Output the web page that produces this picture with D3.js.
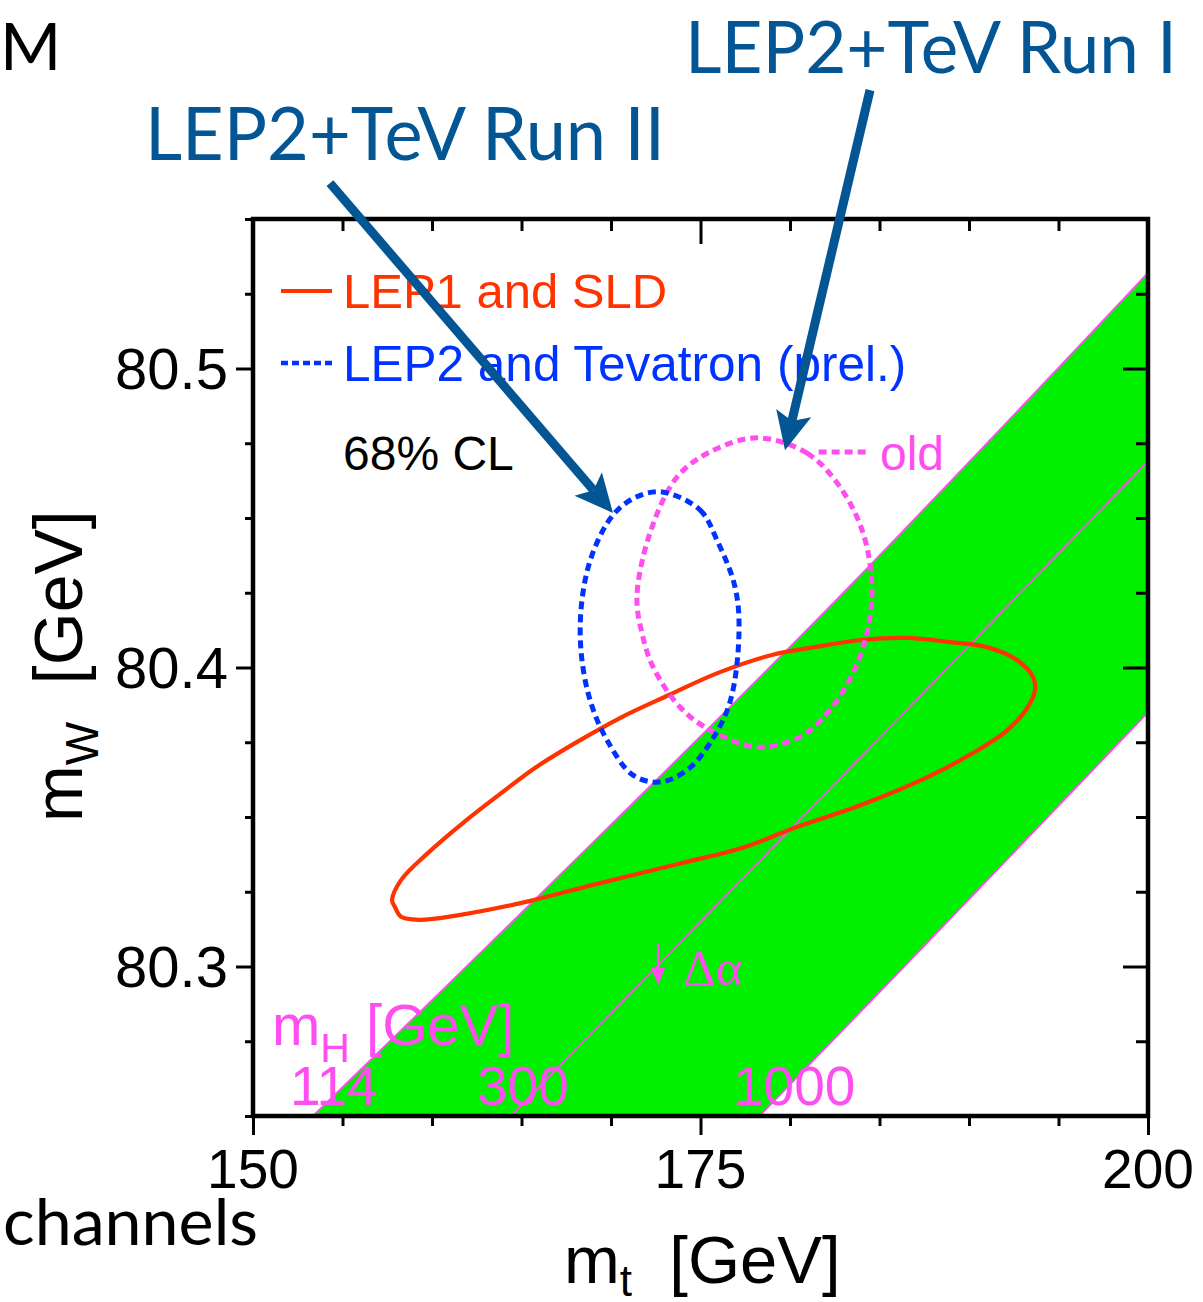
<!DOCTYPE html>
<html><head><meta charset="utf-8">
<script src="https://cdn.jsdelivr.net/npm/d3@7"></script>
<style>
html,body{margin:0;padding:0;background:#fff;}
svg{display:block;}
</style></head>
<body>
<svg id="chart" width="1203" height="1302"></svg>
<script>
// ---- axis ranges and ticks (GeV) ----
const mtDomain = [150, 200];
const mwDomain = [80.25, 80.55];
const mtMajorTicks = [150, 175, 200];
const mtMinorTicks = [155, 160, 165, 170, 180, 185, 190, 195];
const mwMajorTicks = [80.3, 80.4, 80.5];
const mwMinorTicks = [80.25, 80.275, 80.325, 80.35, 80.375, 80.425, 80.45, 80.475, 80.525, 80.55];

// ---- SM prediction for fixed Higgs mass: [m_t, m_W] ----
const higgs114 = [[153.35, 80.25], [165, 80.318], [182, 80.419], [200, 80.532]];
const higgs300 = [[164.4, 80.25], [182, 80.358], [200, 80.469]];
const higgs1000 = [[178.3, 80.25], [188, 80.31], [200, 80.385]];
const higgsLabels = ["114", "300", "1000"];

// ---- 68% CL contours: [m_t, m_W] ----
const lep1Sld = [
  [157.77, 80.3222], [158.27, 80.3289], [159.78, 80.3380], [161.79, 80.3483],
  [163.74, 80.3574], [165.75, 80.3664], [167.99, 80.3747], [170.50, 80.3831],
  [173.24, 80.3908], [175.98, 80.3982], [178.99, 80.4042], [181.45, 80.4069],
  [183.97, 80.4092], [186.48, 80.4099], [188.94, 80.4085], [190.95, 80.4069],
  [192.68, 80.4025], [193.58, 80.3968], [193.69, 80.3925], [193.18, 80.3858],
  [191.96, 80.3781], [190.22, 80.3714], [187.71, 80.3634], [183.97, 80.3540],
  [180.22, 80.3463], [177.49, 80.3400], [173.97, 80.3346], [168.99, 80.3273],
  [165.25, 80.3216], [161.51, 80.3172], [159.27, 80.3156], [158.27, 80.3166],
  [157.93, 80.3199]
];
const lep2Tev = [
  [172.85, 80.4587], [174.97, 80.4527], [175.92, 80.4426], [176.93, 80.4269],
  [177.15, 80.4115], [176.65, 80.3885], [175.53, 80.3747], [174.25, 80.3657],
  [172.74, 80.3617], [171.23, 80.3640], [169.78, 80.3757], [168.83, 80.3891],
  [168.32, 80.4059], [168.38, 80.4226], [168.94, 80.4376], [170.11, 80.4510],
  [171.40, 80.4570]
];
const lep2TevOld = [
  [178.16, 80.4768], [180.95, 80.4717], [182.79, 80.4604], [184.08, 80.4450],
  [184.58, 80.4269], [184.30, 80.4115], [183.52, 80.3982], [182.23, 80.3858],
  [180.56, 80.3768], [178.16, 80.3734], [175.53, 80.3791], [173.85, 80.3868],
  [172.35, 80.4002], [171.73, 80.4115], [171.45, 80.4236], [172.18, 80.4450],
  [173.69, 80.4637], [175.53, 80.4721]
];
const oldLeader = [[181.6, 80.4721], [184.5, 80.4721]];
const deltaAlphaArrow = [[172.63, 80.3079], [172.63, 80.2938]];

// annotation arrows: [start, tip] in [m_t, m_W]
const arrowRunII = [[154.30, 80.562], [170.11, 80.4517]];
const arrowRunI = [[184.47, 80.5931], [179.72, 80.4727]];

// ---- colours ----
const RED = "#ff3300", BLUE = "#0033ff", MAGENTA = "#ff4ef0", GREEN = "#00f000", NAVY = "#035594";
const SANS = "'Liberation Sans', Arial, Helvetica, sans-serif";
const HUMAN = "Lato, 'Open Sans', sans-serif";

const svg = d3.select("#chart");
svg.append("rect").attr("width", 1203).attr("height", 1302).attr("fill", "#fff");

const pLeft = 253, pRight = 1148, pTop = 219, pBottom = 1116;
const x = d3.scaleLinear().domain(mtDomain).range([pLeft, pRight]);
const y = d3.scaleLinear().domain(mwDomain).range([pBottom, pTop]);

svg.append("defs").append("clipPath").attr("id", "plotClip")
  .append("rect").attr("x", pLeft).attr("y", pTop).attr("width", pRight - pLeft).attr("height", pBottom - pTop);

const plot = svg.append("g").attr("clip-path", "url(#plotClip)");
const line = d3.line().x(d => x(d[0])).y(d => y(d[1])).curve(d3.curveCatmullRom.alpha(0.5));
const closed = d3.line().x(d => x(d[0])).y(d => y(d[1])).curve(d3.curveCatmullRomClosed.alpha(0.5));

// green band between mH = 114 and mH = 1000
const bandPath = line(higgs114) + "L" + line(higgs1000.slice().reverse()).slice(1) + "Z";
plot.append("path").attr("d", bandPath).attr("fill", GREEN).attr("stroke", "none");
[higgs114, higgs300, higgs1000].forEach(h => {
  plot.append("path").attr("d", line(h)).attr("fill", "none").attr("stroke", MAGENTA).attr("stroke-width", 1.8);
});

// contours
plot.append("path").attr("d", closed(lep1Sld)).attr("fill", "none")
  .attr("stroke", RED).attr("stroke-width", 4.2).attr("stroke-linejoin", "round");
plot.append("path").attr("d", closed(lep2TevOld)).attr("fill", "none")
  .attr("stroke", MAGENTA).attr("stroke-width", 5).attr("stroke-dasharray", "8,5");
plot.append("path").attr("d", line(oldLeader)).attr("fill", "none")
  .attr("stroke", MAGENTA).attr("stroke-width", 5).attr("stroke-dasharray", "8,5");
plot.append("path").attr("d", closed(lep2Tev)).attr("fill", "none")
  .attr("stroke", BLUE).attr("stroke-width", 5).attr("stroke-dasharray", "8,5");

// Delta-alpha arrow
const da = deltaAlphaArrow;
svg.append("line").attr("x1", x(da[0][0])).attr("y1", y(da[0][1])).attr("x2", x(da[1][0])).attr("y2", y(da[1][1]) - 10)
  .attr("stroke", MAGENTA).attr("stroke-width", 2.4);
svg.append("path")
  .attr("d", `M${x(da[1][0]) - 7},${y(da[1][1]) - 17}L${x(da[1][0])},${y(da[1][1])}L${x(da[1][0]) + 7},${y(da[1][1]) - 17}Z`)
  .attr("fill", MAGENTA);
svg.append("text").attr("x", 683).attr("y", 985).attr("font-family", "'Liberation Serif', 'DejaVu Serif', serif")
  .attr("font-size", 51).attr("fill", MAGENTA).text("Δα");

// Higgs mass labels
const mh = svg.append("text").attr("x", 272).attr("y", 1045).attr("font-family", SANS).attr("font-size", 58).attr("fill", MAGENTA);
mh.append("tspan").text("m");
mh.append("tspan").attr("dy", 17).attr("font-size", 41).text("H");
mh.append("tspan").attr("dy", -17).text(" [GeV]");
const labelX = [290, 477, 733];
higgsLabels.forEach((t, i) => {
  svg.append("text").attr("x", labelX[i]).attr("y", 1105).attr("font-family", SANS).attr("font-size", 55)
    .attr("fill", MAGENTA).text(t);
});

// legend
svg.append("line").attr("x1", 281).attr("x2", 332).attr("y1", 291).attr("y2", 291).attr("stroke", RED).attr("stroke-width", 4);
svg.append("text").attr("x", 343).attr("y", 308).attr("font-family", SANS).attr("font-size", 49).attr("fill", RED).text("LEP1 and SLD");
svg.append("line").attr("x1", 281).attr("x2", 332).attr("y1", 363).attr("y2", 363).attr("stroke", BLUE).attr("stroke-width", 4.6).attr("stroke-dasharray", "7,4");
svg.append("text").attr("x", 343).attr("y", 381).attr("font-family", SANS).attr("font-size", 49.5).attr("fill", BLUE).text("LEP2 and Tevatron (prel.)");
svg.append("text").attr("x", 343).attr("y", 470).attr("font-family", SANS).attr("font-size", 48).attr("fill", "#000").text("68% CL");
svg.append("text").attr("x", 880).attr("y", 470).attr("font-family", SANS).attr("font-size", 48).attr("fill", MAGENTA).text("old");

// frame and ticks
const axes = svg.append("g").attr("stroke", "#000").attr("fill", "none");
function ticks(g) { g.select(".domain").remove(); g.selectAll(".tick line").attr("stroke", "#000").attr("stroke-width", 3); g.selectAll("text").remove(); }
axes.append("g").attr("transform", `translate(0,${pBottom})`).call(d3.axisBottom(x).tickValues(mtMajorTicks).tickSize(19)).call(ticks);
axes.append("g").attr("transform", `translate(0,${pBottom})`).call(d3.axisBottom(x).tickValues(mtMinorTicks).tickSize(10)).call(ticks);
axes.append("g").attr("transform", `translate(0,${pTop})`).call(d3.axisTop(x).tickValues(mtMajorTicks).tickSize(-25)).call(ticks);
axes.append("g").attr("transform", `translate(0,${pTop})`).call(d3.axisTop(x).tickValues(mtMinorTicks).tickSize(-12)).call(ticks);
axes.append("g").attr("transform", `translate(${pLeft},0)`).call(d3.axisLeft(y).tickValues(mwMajorTicks).tickSize(17)).call(ticks);
axes.append("g").attr("transform", `translate(${pLeft},0)`).call(d3.axisLeft(y).tickValues(mwMinorTicks).tickSize(8)).call(ticks);
axes.append("g").attr("transform", `translate(${pRight},0)`).call(d3.axisRight(y).tickValues(mwMajorTicks).tickSize(-25)).call(ticks);
axes.append("g").attr("transform", `translate(${pRight},0)`).call(d3.axisRight(y).tickValues(mwMinorTicks).tickSize(-12)).call(ticks);
svg.append("rect").attr("x", pLeft).attr("y", pTop).attr("width", pRight - pLeft).attr("height", pBottom - pTop)
  .attr("fill", "none").attr("stroke", "#000").attr("stroke-width", 4.5);

// tick labels
mtMajorTicks.forEach(v => {
  svg.append("text").attr("x", x(v)).attr("y", 1188).attr("text-anchor", "middle")
    .attr("font-family", SANS).attr("font-size", 55).attr("fill", "#000").text(String(v));
});
mwMajorTicks.forEach(v => {
  svg.append("text").attr("x", 228).attr("y", y(v) + 20).attr("text-anchor", "end")
    .attr("font-family", SANS).attr("font-size", 58).attr("fill", "#000").text(v.toFixed(1));
});

// axis titles
const xt = svg.append("text").attr("x", 564).attr("y", 1283).attr("font-family", SANS).attr("font-size", 67).attr("fill", "#000")
  .attr("xml:space", "preserve");
xt.append("tspan").text("m");
xt.append("tspan").attr("dy", 13).attr("font-size", 44).text("t");
xt.append("tspan").attr("dy", -13).text("  [GeV]");
const yt = svg.append("text").attr("transform", "translate(82,822) rotate(-90)").attr("font-family", SANS).attr("font-size", 68).attr("fill", "#000")
  .attr("xml:space", "preserve");
yt.append("tspan").text("m");
yt.append("tspan").attr("dy", 16).attr("font-size", 46).text("W");
yt.append("tspan").attr("dy", -16).text("  [GeV]");

// slide text
svg.append("text").attr("x", 0).attr("y", 70).attr("font-family", HUMAN).attr("font-size", 66).attr("fill", "#000").text("M");
svg.append("text").attr("x", 3).attr("y", 1245).attr("font-family", HUMAN).attr("font-size", 64).attr("fill", "#000")
  .attr("textLength", 255).attr("lengthAdjust", "spacingAndGlyphs").text("channels");
svg.append("text").attr("x", 145).attr("y", 160).attr("font-family", HUMAN).attr("font-size", 74).attr("fill", NAVY)
  .attr("textLength", 520).attr("lengthAdjust", "spacingAndGlyphs").text("LEP2+TeV Run II");
svg.append("text").attr("x", 685).attr("y", 73).attr("font-family", HUMAN).attr("font-size", 72).attr("fill", NAVY)
  .attr("textLength", 492).attr("lengthAdjust", "spacingAndGlyphs").text("LEP2+TeV Run I");

// annotation arrows
function arrow(a) {
  const x0 = x(a[0][0]), y0 = y(a[0][1]), x1 = x(a[1][0]), y1 = y(a[1][1]);
  const L = Math.hypot(x1 - x0, y1 - y0), ux = (x1 - x0) / L, uy = (y1 - y0) / L;
  const px = -uy, py = ux, head = 38, half = 18, notch = 30;
  svg.append("line").attr("x1", x0).attr("y1", y0).attr("x2", x1 - ux * notch).attr("y2", y1 - uy * notch)
    .attr("stroke", NAVY).attr("stroke-width", 9);
  const bx = x1 - ux * head, by = y1 - uy * head;
  svg.append("path").attr("d",
    `M${x1},${y1}L${bx + px * half},${by + py * half}L${x1 - ux * notch},${y1 - uy * notch}L${bx - px * half},${by - py * half}Z`)
    .attr("fill", NAVY);
}
arrow(arrowRunII);
arrow(arrowRunI);
</script>
</body></html>
